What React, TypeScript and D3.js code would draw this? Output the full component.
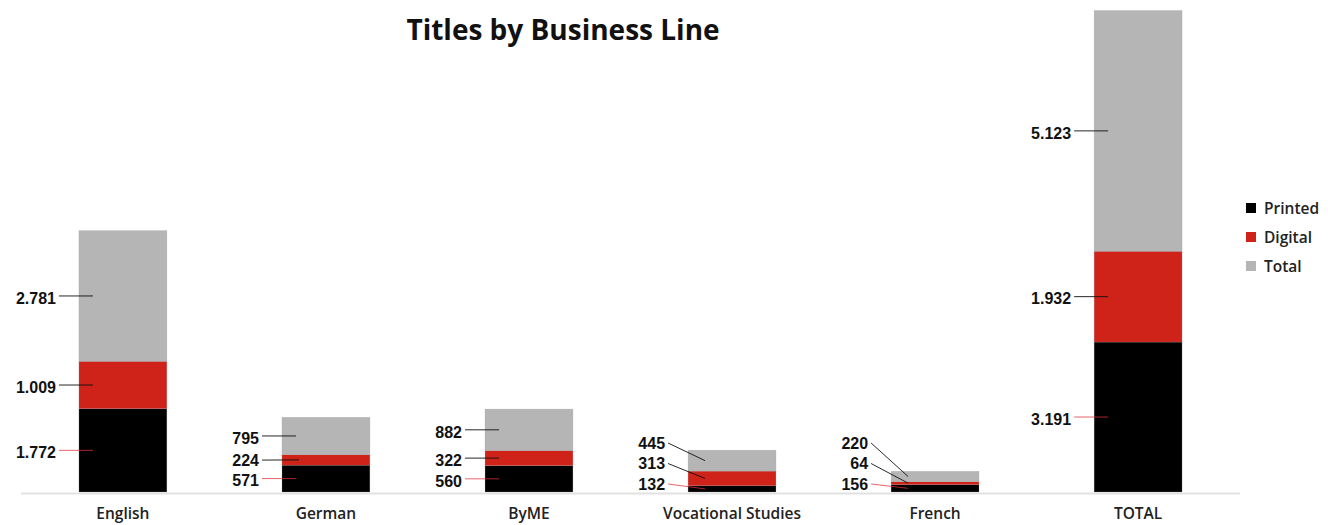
import React from "react";
import * as d3 from "d3";

const categories = ["English", "German", "ByME", "Vocational Studies", "French", "TOTAL"];
const printed = [1772, 571, 560, 132, 156, 3191];
const digital = [1009, 224, 322, 313, 64, 1932];
const total = [2781, 795, 882, 445, 220, 5123];
const seriesNames = ["Printed", "Digital", "Total"];
const seriesColors = ["#000000", "#cf2219", "#b5b5b5"];

const W = 1328;
const H = 525;
const baseY = 492;
const topY = 10.5;

const locale = d3.formatLocale({ decimal: ",", thousands: ".", grouping: [3], currency: ["", ""] });
const fmt = locale.format(",d");

export default function App() {
  const rows = categories.map((c, i) => ({ cat: c, Printed: printed[i], Digital: digital[i], Total: total[i] }));
  const stack = d3.stack<any>().keys(seriesNames);
  const stacked = stack(rows);
  const maxV = d3.max(rows, (r) => r.Printed + r.Digital + r.Total) as number;

  const x = d3.scaleBand<string>().domain(categories).range([21.5, 1239.5]).paddingInner(0.567).paddingOuter(0.283);
  const y = d3.scaleLinear().domain([0, maxV]).range([baseY, topY]);

  const bw = x.bandwidth();

  const labels: any[] = [];
  categories.forEach((c, i) => {
    const left = x(c) as number;
    const mids = stacked.map((s) => (y(s[i][0]) + y(s[i][1])) / 2);
    const ly: number[] = [];
    const gap = 20.5;
    const cap = 482;
    mids.forEach((m, k) => {
      let v = Math.min(m, cap);
      if (k > 0) v = Math.min(v, ly[k - 1] - gap);
      ly.push(v);
    });
    stacked.forEach((s, k) => {
      const displaced = Math.abs(ly[k] - mids[k]) > 1.5;
      labels.push({
        key: c + k,
        text: fmt(s[i].data[seriesNames[k]]),
        tx: left - 23,
        ty: ly[k],
        x1: left - 20,
        y1: ly[k] + (displaced ? 2 : 0),
        x2: left + (displaced ? 17 : 14),
        y2: mids[k],
        k,
      });
    });
  });

  const uiFont = "'Open Sans', Lato, sans-serif";

  return (
    <svg width={W} height={H} style={{ position: "absolute", left: 0, top: 0, background: "#fff" }}>
      <text x={563} y={40} textAnchor="middle" fontFamily={uiFont} fontWeight={700} fontSize={28} fill="#111">
        Titles by Business Line
      </text>
      <line x1={21} x2={1240} y1={493.5} y2={493.5} stroke="#e2e2e2" strokeWidth={2} />
      {stacked.map((s, k) => (
        <g key={s.key} fill={seriesColors[k]}>
          {s.map((d, i) => (
            <rect
              key={i}
              x={x(categories[i])}
              y={y(d[1])}
              width={bw}
              height={Math.max(0, y(d[0]) - y(d[1]))}
              stroke="rgba(160,160,160,0.5)"
              strokeWidth={0.5}
            />
          ))}
        </g>
      ))}
      {labels.map((l) => (
        <g key={l.key}>
          <line
            x1={l.x1}
            y1={l.y1}
            x2={l.x2}
            y2={l.y2}
            stroke={l.k === 0 ? "#e0303a" : "#111"}
            strokeOpacity={l.k === 0 ? 0.75 : 0.9}
            strokeWidth={1}
          />
          <text
            x={l.tx}
            y={l.ty}
            dy="0.48em"
            textAnchor="end"
            fontFamily="'Liberation Sans', Arial, sans-serif"
            fontWeight={700}
            fontSize={16}
            fill="#111"
          >
            {l.text}
          </text>
        </g>
      ))}
      {categories.map((c) => (
        <text
          key={c}
          x={(x(c) as number) + bw / 2}
          y={519}
          textAnchor="middle"
          fontFamily={uiFont}
          fontWeight={600}
          fontSize={15.5}
          fill="#222"
        >
          {c}
        </text>
      ))}
      {seriesNames.map((n, k) => (
        <g key={n} transform={`translate(1246, ${203 + k * 29})`}>
          <rect width={10} height={10} fill={seriesColors[k]} />
          <text x={18} y={5} dy="0.36em" fontFamily={uiFont} fontWeight={600} fontSize={15.5} fill="#222">
            {n}
          </text>
        </g>
      ))}
    </svg>
  );
}
